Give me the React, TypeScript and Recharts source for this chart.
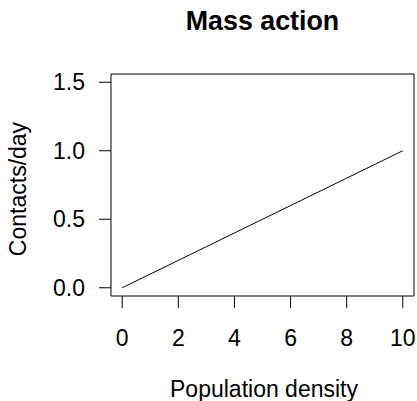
import { LineChart, Line, XAxis, YAxis, ReferenceArea } from "recharts"

const density = [0, 1, 2, 3, 4, 5, 6, 7, 8, 9, 10]
const contacts = [0, 0.1, 0.2, 0.3, 0.4, 0.5, 0.6, 0.7, 0.8, 0.9, 1.0]
const xTicks = [0, 2, 4, 6, 8, 10]
const yTicks = [0, 0.5, 1.0, 1.5]

const data = density.map((d, i) => ({ density: d, contacts: contacts[i] }))

const font = "'Liberation Sans', Arial, Helvetica, sans-serif"

export default function App() {
  return (
    <div style={{ position: "absolute", left: 0, top: 0, width: 417, height: 401, background: "#fff" }}>
      <LineChart width={417} height={401} data={data} margin={{ top: 74, right: 3, bottom: 0, left: 0 }}>
        <XAxis
          dataKey="density"
          type="number"
          domain={[-0.4, 10.4]}
          ticks={xTicks}
          allowDataOverflow
          height={105}
          axisLine={false}
          tickSize={12}
          tickMargin={22}
          tickLine={{ stroke: "#000", strokeWidth: 1 }}
          tick={{ fill: "#000", fontSize: 23, fontFamily: font }}
        />
        <YAxis
          type="number"
          domain={[-0.06, 1.56]}
          ticks={yTicks}
          allowDataOverflow
          width={111}
          axisLine={false}
          tickSize={12}
          tickMargin={14}
          tickFormatter={(v: number) => v.toFixed(1)}
          tickLine={{ stroke: "#000", strokeWidth: 1 }}
          tick={{ fill: "#000", fontSize: 23, fontFamily: font }}
        />
        <ReferenceArea x1={-0.4} x2={10.4} y1={-0.06} y2={1.56} fill="none" stroke="#000" strokeWidth={1} fillOpacity={0} />
        <Line
          dataKey="contacts"
          type="linear"
          stroke="#000"
          strokeWidth={1}
          dot={false}
          isAnimationActive={false}
        />
      </LineChart>
      <svg width={417} height={401} style={{ position: "absolute", left: 0, top: 0, pointerEvents: "none" }}>
        <text x={262.5} y={30} textAnchor="middle" fontFamily={font} fontWeight="bold" fontSize={26.8} fill="#000">
          Mass action
        </text>
        <text x={264} y={397} textAnchor="middle" fontFamily={font} fontSize={23} fill="#000">
          Population density
        </text>
        <text x={26} y={189} transform="rotate(-90 26 189)" textAnchor="middle" fontFamily={font} fontSize={23} fill="#000">
          Contacts/day
        </text>
      </svg>
    </div>
  )
}
